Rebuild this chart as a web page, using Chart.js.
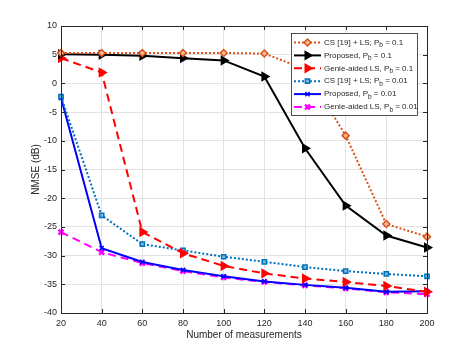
<!DOCTYPE html>
<html>
<head>
<meta charset="utf-8">
<script src="https://cdn.jsdelivr.net/npm/chart.js@4.4.1/dist/chart.umd.min.js"></script>
<style>
  html, body { margin: 0; padding: 0; background: #fff; }
  #wrap { width: 471px; height: 353px; }
</style>
</head>
<body>
<div id="wrap"><canvas id="nmse" width="471" height="353"></canvas></div>
<script>
// ── DATA ──
const measurements = [20, 40, 60, 80, 100, 120, 140, 160, 180, 200];
const yTicks = [-40, -35, -30, -25, -20, -15, -10, -5, 0, 5, 10];

const csLs01      = [5.3, 5.3, 5.3, 5.3, 5.3, 5.2, 2.5, -9.1, -24.5, -26.7];
const proposed01  = [5.1, 5.0, 4.8, 4.4, 4.0, 1.2, -11.3, -21.3, -26.5, -28.6];
const genie01     = [4.4, 1.9, -25.9, -29.6, -31.8, -33.1, -34.0, -34.6, -35.3, -36.3];
const csLs001     = [-2.3, -23.0, -28.0, -29.1, -30.2, -31.1, -32.0, -32.7, -33.2, -33.6];
const proposed001 = [-2.5, -28.7, -31.1, -32.5, -33.6, -34.5, -35.1, -35.6, -36.3, -36.2];
const genie001    = [-25.9, -29.4, -31.3, -32.7, -33.8, -34.6, -35.2, -35.7, -36.4, -36.7];

const seriesLabels = [
  'CS [19] + LS; P_b = 0.1',
  'Proposed, P_b = 0.1',
  'Genie-aided LS, P_b = 0.1',
  'CS [19] + LS; P_b = 0.01',
  'Proposed, P_b = 0.01',
  'Genie-aided LS, P_b = 0.01'
];

// ── STYLE ──
const FONT = "'Liberation Sans', Arial, sans-serif";
const AXIS = '#262626';
const GRID = '#e3e3e3';

const ORANGE = '#D95319';
const BLACK = '#000000';
const RED = '#FF0000';
const STEEL = '#0072BD';
const BLUE = '#0000FF';
const MAGENTA = '#FF00FF';

function series(label, data, color, dash, style, opts) {
  return Object.assign({
    label,
    data,
    borderColor: color,
    backgroundColor: color,
    borderWidth: 2,
    borderDash: dash,
    pointStyle: style,
    pointRadius: 4,
    pointBorderColor: color,
    pointBackgroundColor: color,
    pointBorderWidth: 1.5,
    pointRotation: 0,
    tension: 0,
    fill: false,
  }, opts || {});
}

const datasets = [
  series(seriesLabels[0], csLs01, ORANGE, [2, 2], 'rectRot', { pointBackgroundColor: '#f3b89c', pointRadius: 3.5 }),
  series(seriesLabels[1], proposed01, BLACK, [], 'triangle', { pointRotation: 90, pointRadius: 4.5 }),
  series(seriesLabels[2], genie01, RED, [8, 5], 'triangle', { pointRotation: 90, pointRadius: 4.5 }),
  series(seriesLabels[3], csLs001, STEEL, [2, 2], 'rect', { pointBackgroundColor: '#7fb8de', pointRadius: 3 }),
  series(seriesLabels[4], proposed001, BLUE, [], 'crossRot', { pointRadius: 3, pointBorderWidth: 1.5 }),
  series(seriesLabels[5], genie001, MAGENTA, [8, 5], 'crossRot', { pointRadius: 3.5, pointBorderWidth: 2.5 }),
];

// ── BOX, INNER TICKS, LEGEND ──
const matlabFrame = {
  id: 'matlabFrame',
  afterDatasetsDraw(chart) {
    const { ctx, chartArea: a, scales } = chart;
    ctx.save();
    ctx.strokeStyle = AXIS;
    ctx.lineWidth = 1;
    // inner tick marks
    ctx.beginPath();
    measurements.forEach((m, i) => {
      const x = Math.round(scales.x.getPixelForValue(i)) + 0.5;
      ctx.moveTo(x, a.bottom); ctx.lineTo(x, a.bottom - 4);
      ctx.moveTo(x, a.top); ctx.lineTo(x, a.top + 4);
    });
    yTicks.forEach(v => {
      const y = Math.round(scales.y.getPixelForValue(v)) + 0.5;
      ctx.moveTo(a.left, y); ctx.lineTo(a.left + 4, y);
      ctx.moveTo(a.right, y); ctx.lineTo(a.right - 4, y);
    });
    ctx.stroke();
    // box
    ctx.strokeRect(Math.round(a.left) + 0.5, Math.round(a.top) + 0.5,
      Math.round(a.right - a.left), Math.round(a.bottom - a.top));
    ctx.restore();
  },
  afterDraw(chart) {
    const { ctx, chartArea: a } = chart;
    const boxW = 126, rowH = 12.9, boxH = 82;
    const x0 = a.right - 10 - boxW, y0 = a.top + 7;
    ctx.save();
    ctx.fillStyle = '#fff';
    ctx.fillRect(x0, y0, boxW, boxH);
    ctx.strokeStyle = AXIS;
    ctx.lineWidth = 0.8;
    ctx.strokeRect(x0 + 0.5, y0 + 0.5, boxW, boxH);

    chart.data.datasets.forEach((ds, i) => {
      const cy = y0 + 9.5 + i * rowH;
      const lx0 = x0 + 3, lx1 = x0 + 30;
      ctx.save();
      ctx.strokeStyle = ds.borderColor;
      ctx.lineWidth = ds.borderWidth;
      ctx.setLineDash(ds.borderDash);
      ctx.beginPath();
      ctx.moveTo(lx0, cy); ctx.lineTo(lx1, cy);
      ctx.stroke();
      ctx.setLineDash([]);
      ctx.strokeStyle = ds.pointBorderColor;
      ctx.fillStyle = ds.pointBackgroundColor;
      ctx.lineWidth = ds.pointBorderWidth;
      Chart.helpers.drawPoint(ctx, {
        pointStyle: ds.pointStyle,
        radius: ds.pointRadius,
        rotation: ds.pointRotation,
        borderWidth: ds.pointBorderWidth
      }, (lx0 + lx1) / 2, cy);
      ctx.restore();

      // text with subscript b
      const parts = ds.label.split('_b');
      let tx = x0 + 33;
      ctx.fillStyle = AXIS;
      ctx.textBaseline = 'middle';
      ctx.font = `8px ${FONT}`;
      ctx.fillText(parts[0], tx, cy);
      tx += ctx.measureText(parts[0]).width;
      ctx.font = `6.5px ${FONT}`;
      ctx.fillText('b', tx, cy + 3);
      tx += ctx.measureText('b').width;
      ctx.font = `8px ${FONT}`;
      ctx.fillText(parts[1], tx, cy);
    });
    ctx.restore();
  }
};

// ── CHART ──
new Chart(document.getElementById('nmse'), {
  type: 'line',
  data: { labels: measurements, datasets },
  plugins: [matlabFrame],
  options: {
    responsive: false,
    devicePixelRatio: 1,
    animation: false,
    layout: { padding: { left: 0, top: 26, right: 44, bottom: 0 } },
    plugins: { legend: { display: false }, tooltip: { enabled: false } },
    scales: {
      x: {
        type: 'category',
        offset: false,
        afterFit: s => { s.height = 40; },
        grid: { color: GRID, lineWidth: 1, drawTicks: false },
        border: { display: true, color: AXIS, width: 1 },
        ticks: { color: AXIS, padding: 5, maxRotation: 0, autoSkip: false, font: { family: FONT, size: 9 } },
        title: { display: true, text: 'Number of measurements', color: AXIS, font: { family: FONT, size: 10 }, padding: { top: 0, bottom: 12 } }
      },
      y: {
        type: 'linear',
        min: -40,
        max: 10,
        afterFit: s => { s.width = 61; },
        afterBuildTicks: s => { s.ticks = yTicks.map(v => ({ value: v })); },
        grid: { color: GRID, lineWidth: 1, drawTicks: false },
        border: { display: true, color: AXIS, width: 1 },
        ticks: { color: AXIS, padding: 4, font: { family: FONT, size: 9 } },
        title: { display: true, text: 'NMSE (dB)', color: AXIS, font: { family: FONT, size: 10 }, padding: { top: 30, bottom: 0 } }
      }
    }
  }
});
</script>
</body>
</html>
